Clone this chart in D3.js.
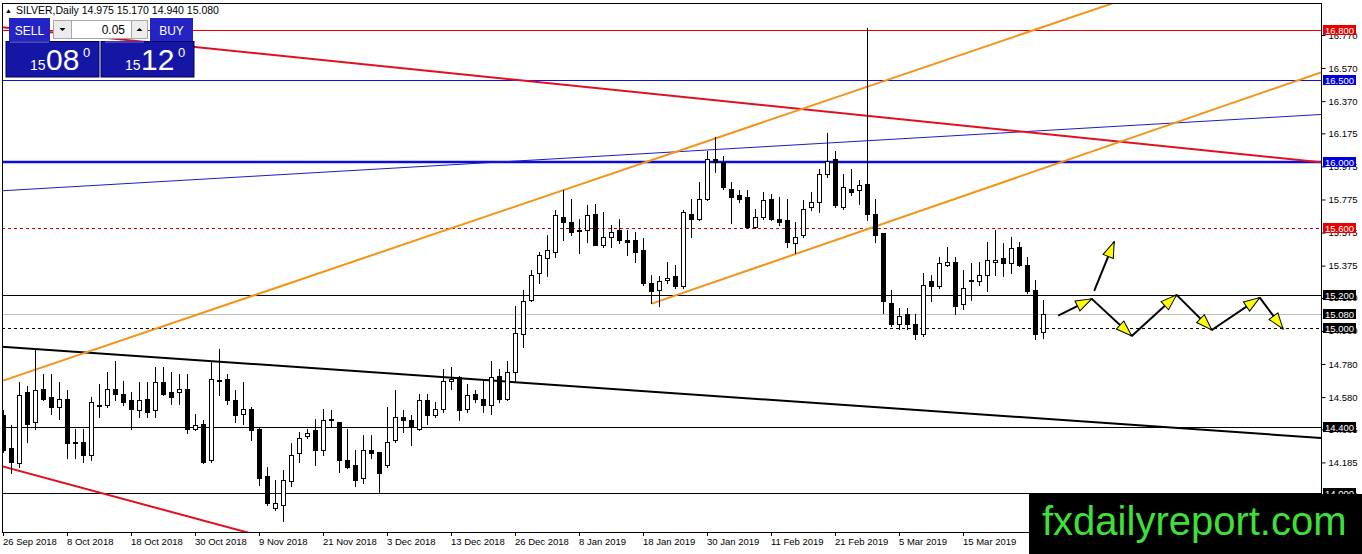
<!DOCTYPE html>
<html>
<head>
<meta charset="utf-8">
<script src="https://cdn.jsdelivr.net/npm/d3@7"></script>
<style>
  html, body { margin: 0; padding: 0; background: #fff; }
  svg { display: block; font-family: "Liberation Sans", Arial, sans-serif; }
</style>
</head>
<body>
<div id="chart"></div>
<script>
// date labels shown every 8 daily bars, starting at bar 0
const dateLabels = ["26 Sep 2018", "8 Oct 2018", "18 Oct 2018", "30 Oct 2018", "9 Nov 2018",
  "21 Nov 2018", "3 Dec 2018", "13 Dec 2018", "26 Dec 2018", "8 Jan 2019", "18 Jan 2019",
  "30 Jan 2019", "11 Feb 2019", "21 Feb 2019", "5 Mar 2019", "15 Mar 2019"];

// daily OHLC
const opens = [14.47,14.27,14.18,14.61,14.43,14.63,14.58,14.52,14.57,14.31,14.31,14.23,14.53,14.53,14.63,14.60,14.56,14.50,14.57,14.50,
  14.67,14.61,14.61,14.63,14.39,14.42,14.20,14.685,14.69,14.56,14.48,14.51,14.39,14.10,13.91,13.93,14.07,14.24,14.345,14.38,
  14.26,14.44,14.43,14.20,14.17,14.09,14.26,14.25,14.17,14.32,14.46,14.44,14.39,14.56,14.47,14.51,14.68,14.70,14.51,14.60,
  14.57,14.53,14.71,14.57,14.73,14.96,15.17,15.33,15.42,15.46,15.67,15.64,15.59,15.59,15.69,15.50,15.55,15.59,15.53,15.53,
  15.47,15.27,15.23,15.29,15.31,15.25,15.69,15.66,15.78,16.02,16.00,15.84,15.80,15.79,15.61,15.67,15.78,15.66,15.65,15.51,
  15.56,15.73,15.76,15.93,16.02,15.73,15.84,15.83,15.87,15.69,15.57,15.15,15.02,15.08,15.02,14.96,15.28,15.25,15.38,15.40,
  15.14,15.29,15.28,15.32,15.40,15.42,15.39,15.49,15.38,15.23,14.975];
const highs = [14.50,14.41,14.67,14.65,14.87,14.72,14.72,14.67,14.62,14.39,14.39,14.58,14.66,14.73,14.80,14.68,14.61,14.67,14.67,14.76,
  14.76,14.73,14.72,14.72,14.48,14.44,14.79,14.87,14.72,14.62,14.67,14.52,14.40,14.16,14.08,14.14,14.30,14.37,14.39,14.45,
  14.51,14.50,14.43,14.39,14.26,14.35,14.35,14.25,14.52,14.62,14.50,14.47,14.60,14.60,14.55,14.75,14.76,14.71,14.66,14.62,
  14.68,14.80,14.75,14.80,15.13,15.23,15.35,15.46,15.56,15.71,15.83,15.78,15.66,15.74,15.75,15.70,15.62,15.66,15.59,15.58,
  15.54,15.32,15.31,15.40,15.38,15.71,15.78,15.88,16.07,16.15,16.04,15.88,15.83,15.83,15.72,15.82,15.81,15.79,15.78,15.64,
  15.77,15.82,15.96,16.18,16.07,15.93,15.96,15.89,16.81,15.78,15.57,15.23,15.12,15.12,15.08,15.33,15.32,15.43,15.49,15.43,
  15.35,15.39,15.40,15.52,15.59,15.51,15.55,15.52,15.43,15.29,15.17];
const lows = [14.25,14.12,14.16,14.31,14.39,14.56,14.48,14.45,14.21,14.21,14.19,14.20,14.46,14.52,14.56,14.53,14.39,14.46,14.46,14.46,
  14.59,14.54,14.54,14.36,14.38,14.18,14.19,14.59,14.54,14.43,14.42,14.32,14.05,13.93,13.90,13.83,14.04,14.19,14.33,14.17,
  14.23,14.40,14.13,14.15,14.04,14.06,14.21,14.00,14.16,14.31,14.37,14.29,14.38,14.42,14.46,14.49,14.63,14.44,14.49,14.55,
  14.49,14.48,14.55,14.56,14.67,14.88,15.16,15.27,15.31,15.43,15.53,15.56,15.45,15.52,15.50,15.49,15.49,15.51,15.44,15.40,
  15.26,15.15,15.13,15.27,15.24,15.24,15.55,15.65,15.77,15.94,15.84,15.63,15.76,15.60,15.60,15.66,15.65,15.62,15.49,15.45,
  15.55,15.71,15.70,15.91,15.73,15.72,15.80,15.75,15.65,15.52,15.09,15.01,14.99,14.99,14.93,14.95,15.16,15.24,15.37,15.08,
  15.11,15.17,15.26,15.22,15.32,15.31,15.33,15.37,15.21,14.93,14.94];
const closes = [14.26,14.19,14.59,14.42,14.62,14.57,14.52,14.57,14.30,14.30,14.23,14.55,14.53,14.63,14.60,14.55,14.51,14.56,14.49,14.67,
  14.60,14.58,14.63,14.39,14.41,14.19,14.69,14.675,14.56,14.47,14.51,14.38,14.09,13.94,13.94,14.08,14.23,14.33,14.365,14.26,
  14.44,14.445,14.20,14.16,14.08,14.26,14.24,14.12,14.31,14.46,14.44,14.40,14.56,14.47,14.51,14.68,14.69,14.50,14.59,14.57,
  14.53,14.70,14.57,14.73,14.97,15.16,15.32,15.44,15.47,15.68,15.64,15.58,15.585,15.68,15.50,15.55,15.58,15.53,15.52,15.46,
  15.27,15.22,15.28,15.30,15.25,15.70,15.66,15.78,16.02,16.00,15.85,15.79,15.78,15.61,15.67,15.77,15.66,15.64,15.52,15.55,
  15.72,15.76,15.93,16.01,15.74,15.85,15.82,15.86,15.69,15.56,15.16,15.02,15.07,15.02,14.96,15.26,15.25,15.39,15.40,15.13,
  15.24,15.28,15.32,15.41,15.41,15.39,15.48,15.38,15.22,14.96,15.08];

const priceTicks = [16.770, 16.570, 16.370, 16.175, 15.975, 15.775, 15.575, 15.375, 15.180,
  14.980, 14.780, 14.580, 14.385, 14.185, 13.985];

// horizontal levels drawn on the chart
const levelValues = [16.8, 16.5, 16.0, 15.6, 15.2, 15.08, 15.0, 14.4, 14.0];

// trend lines as [bar, price] anchor pairs
const channelUpper = [[-0.375, 14.673], [164.75, 17.39]];
const channelLower = [[81.1, 15.145], [164.75, 16.544]];
const redUpper = [[-0.375, 16.818], [164.75, 16.0]];
const redLower = [[-0.375, 14.165], [164.75, 12.01]];
const blackTrend = [[-0.375, 14.886], [164.75, 14.333]];
const blueTrend = [[-0.375, 15.827], [164.75, 16.289]];

// projected path arrows [bar, price]
const zigzag = [[131.9, 15.073], [136.1, 15.174], [141.1, 14.95], [146.7, 15.198],
  [151.1, 14.986], [157.1, 15.182], [160, 14.992]];
const upArrow = [[136.4, 15.222], [138.9, 15.52]];

const width = 1362;
const height = 554;
const plot = { left: 2, top: 3, right: 1321, bottom: 532 };

const x = d3.scaleLinear().domain([0, 164.75]).range([3, 1321]);
const y = d3.scaleLinear().domain([14.0, 16.8]).range([493, 30]);

const svg = d3.select("#chart")
  .append("svg")
  .attr("width", width)
  .attr("height", height)
  .attr("viewBox", [0, 0, width, height]);

const defs = svg.append("defs");
defs.append("clipPath").attr("id", "plot-clip")
  .append("rect")
  .attr("x", plot.left).attr("y", plot.top)
  .attr("width", plot.right - plot.left).attr("height", plot.bottom - plot.top);

defs.append("marker")
  .attr("id", "arrowhead")
  .attr("viewBox", "0 0 18 13")
  .attr("refX", 17).attr("refY", 6.5)
  .attr("markerWidth", 18).attr("markerHeight", 13)
  .attr("markerUnits", "userSpaceOnUse")
  .attr("orient", "auto")
  .append("path")
  .attr("d", "M1,1 L17,6.5 L1,12 Z")
  .attr("fill", "#ffff00")
  .attr("stroke", "#000")
  .attr("stroke-width", 1);

const crisp = v => Math.round(v) + 0.5;

const chart = svg.append("g").attr("clip-path", "url(#plot-clip)");

// horizontal levels
const levelStyle = {
  16.8: { stroke: "#e00000", width: 1, dash: null, label: "#e80000" },
  16.5: { stroke: "#1010e0", width: 1, dash: null, label: "#0000e0" },
  16.0: { stroke: "#0c0cd8", width: 2.5, dash: null, label: "#0000e0" },
  15.6: { stroke: "#d80000", width: 1, dash: "3,3", label: "#e80000" },
  15.2: { stroke: "#000", width: 1, dash: null, label: "#000" },
  15.08: { stroke: "#c0c0c0", width: 1, dash: null, label: "#000" },
  15.0: { stroke: "#000", width: 1, dash: "3,3", label: "#000" },
  14.4: { stroke: "#000", width: 1, dash: null, label: "#000" },
  14.0: { stroke: "#000", width: 1, dash: null, label: "#000" }
};

chart.append("g")
  .selectAll("line")
  .data(levelValues)
  .join("line")
    .attr("x1", plot.left)
    .attr("x2", plot.right)
    .attr("y1", d => levelStyle[d].width > 1 ? Math.round(y(d)) : crisp(y(d)))
    .attr("y2", d => levelStyle[d].width > 1 ? Math.round(y(d)) : crisp(y(d)))
    .attr("stroke", d => levelStyle[d].stroke)
    .attr("stroke-width", d => levelStyle[d].width)
    .attr("stroke-dasharray", d => levelStyle[d].dash);

// trend lines
const trendLine = d3.line().x(d => x(d[0])).y(d => y(d[1]));
const trends = [
  { pts: blueTrend, color: "#1c1cc0", w: 1 },
  { pts: redUpper, color: "#e01020", w: 2 },
  { pts: redLower, color: "#e01020", w: 2 },
  { pts: blackTrend, color: "#000", w: 2 },
  { pts: channelUpper, color: "#f39419", w: 2 },
  { pts: channelLower, color: "#f39419", w: 2 }
];
chart.append("g")
  .selectAll("path")
  .data(trends)
  .join("path")
    .attr("d", d => trendLine(d.pts))
    .attr("fill", "none")
    .attr("stroke", d => d.color)
    .attr("stroke-width", d => d.w);

// candles
const bars = d3.range(opens.length).map(i => ({
  i, o: opens[i], h: highs[i], l: lows[i], c: closes[i]
}));

const candles = chart.append("g")
  .selectAll("g")
  .data(bars)
  .join("g");

candles.append("line")
  .attr("x1", d => crisp(x(d.i)))
  .attr("x2", d => crisp(x(d.i)))
  .attr("y1", d => Math.round(y(d.h)))
  .attr("y2", d => Math.round(y(d.l)) + 1)
  .attr("stroke", "#000")
  .attr("stroke-width", 1);

candles.append("rect")
  .attr("x", d => Math.round(x(d.i)) - 1.5)
  .attr("y", d => Math.round(y(Math.max(d.o, d.c))) + 0.5)
  .attr("width", 4)
  .attr("height", d => Math.max(1, Math.round(y(Math.min(d.o, d.c))) - Math.round(y(Math.max(d.o, d.c)))))
  .attr("fill", d => d.c >= d.o ? "#fff" : "#000")
  .attr("stroke", "#000")
  .attr("stroke-width", 1);

// projection arrows
const arrows = chart.append("g");
const segs = d3.pairs(zigzag).concat([upArrow]);
arrows.selectAll("line")
  .data(segs)
  .join("line")
    .attr("x1", d => x(d[0][0]))
    .attr("y1", d => y(d[0][1]))
    .attr("x2", d => x(d[1][0]))
    .attr("y2", d => y(d[1][1]))
    .attr("stroke", "#000")
    .attr("stroke-width", 2)
    .attr("marker-end", "url(#arrowhead)");

// frame
svg.append("rect")
  .attr("x", plot.left + 0.5).attr("y", plot.top + 0.5)
  .attr("width", plot.right - plot.left).attr("height", plot.bottom - plot.top)
  .attr("fill", "none").attr("stroke", "#000");

// price axis
const yAxis = svg.append("g")
  .attr("transform", `translate(${plot.right + 0.5},0)`)
  .call(d3.axisRight(y).tickValues(priceTicks).tickFormat(d3.format(".3f")).tickSize(4).tickPadding(3));
yAxis.select(".domain").remove();
yAxis.selectAll(".tick line").attr("stroke", "#000");
yAxis.selectAll(".tick text")
  .attr("font-family", "Liberation Sans, Arial, sans-serif")
  .attr("font-size", "9.5px")
  .attr("fill", "#000");

// level labels on the price axis
const lvl = svg.append("g")
  .selectAll("g")
  .data(levelValues)
  .join("g")
    .attr("transform", d => `translate(1323,${Math.round(y(d))})`);
lvl.append("rect")
  .attr("x", 0).attr("y", -5)
  .attr("width", 33).attr("height", 10)
  .attr("fill", d => levelStyle[d].label);
lvl.append("text")
  .attr("x", 16.5).attr("y", 3.5)
  .attr("text-anchor", "middle")
  .attr("font-size", "9.5px")
  .attr("fill", "#fff")
  .text(d => d3.format(".3f")(d));

// time axis
const dateTicks = dateLabels.map((label, k) => ({ label, bar: k * 8 }));
const xAxis = svg.append("g");
xAxis.selectAll("line")
  .data(dateTicks)
  .join("line")
    .attr("x1", d => crisp(x(d.bar))).attr("x2", d => crisp(x(d.bar)))
    .attr("y1", plot.bottom).attr("y2", plot.bottom + 4)
    .attr("stroke", "#000");
xAxis.selectAll("text")
  .data(dateTicks)
  .join("text")
    .attr("x", d => x(d.bar))
    .attr("y", 545)
    .attr("font-size", "9.5px")
    .attr("fill", "#000")
    .text(d => d.label);

// title line
svg.append("text").attr("x", 5).attr("y", 13).attr("font-size", "7px").text("▲");
svg.append("text").attr("x", 16).attr("y", 13.5).attr("font-size", "10.5px")
  .text("SILVER,Daily  14.975 15.170 14.940 15.080");

// one-click trading panel
const panel = svg.append("g");
panel.append("rect").attr("x", 9).attr("y", 18).attr("width", 41).attr("height", 24).attr("fill", "#2424c4");
panel.append("rect").attr("x", 150).attr("y", 18).attr("width", 43).attr("height", 24).attr("fill", "#2424c4");
panel.append("rect").attr("x", 53.5).attr("y", 20.5).attr("width", 18).attr("height", 18).attr("fill", "#ececec").attr("stroke", "#a8a8a8");
panel.append("rect").attr("x", 71.5).attr("y", 20.5).attr("width", 60).attr("height", 18).attr("fill", "#fff").attr("stroke", "#a8a8a8");
panel.append("rect").attr("x", 131.5).attr("y", 20.5).attr("width", 16).attr("height", 18).attr("fill", "#ececec").attr("stroke", "#a8a8a8");
panel.append("path").attr("d", "M59.5,28 L65.5,28 L62.5,31 Z").attr("fill", "#000");
panel.append("path").attr("d", "M136.5,31 L142.5,31 L139.5,28 Z").attr("fill", "#000");
panel.append("text").attr("x", 125).attr("y", 34).attr("text-anchor", "end").attr("font-size", "12px").text("0.05");
panel.append("text").attr("x", 29.5).attr("y", 35).attr("text-anchor", "middle").attr("font-size", "12px").attr("fill", "#fff").text("SELL");
panel.append("text").attr("x", 171.5).attr("y", 35).attr("text-anchor", "middle").attr("font-size", "12px").attr("fill", "#fff").text("BUY");

const quotes = [
  { x0: 6, big: "08" },
  { x0: 101, big: "12" }
];
const qb = panel.selectAll("g.quote")
  .data(quotes)
  .join("g")
    .attr("class", "quote")
    .attr("transform", d => `translate(${d.x0},41.5)`);
qb.append("rect").attr("width", 93).attr("height", 35.5).attr("fill", "#1616a6").attr("stroke", "#00005a");
qb.append("line").attr("x1", 4).attr("x2", 43).attr("y1", 0.5).attr("y2", 0.5).attr("stroke", "#7777e8");
qb.append("text").attr("x", 24).attr("y", 28).attr("font-size", "14px").attr("fill", "#fff").text("15");
qb.append("text").attr("x", 40).attr("y", 28.5).attr("font-size", "30px").attr("fill", "#fff").text(d => d.big);
qb.append("text").attr("x", 77).attr("y", 15.5).attr("font-size", "13px").attr("fill", "#fff").text("0");

// watermark
svg.append("rect").attr("x", 1029).attr("y", 494).attr("width", 333).attr("height", 60).attr("fill", "#000");
svg.append("text").attr("x", 1042).attr("y", 535).attr("font-size", "40px").attr("fill", "#3fe03a")
  .text("fxdailyreport.com");
</script>
</body>
</html>
